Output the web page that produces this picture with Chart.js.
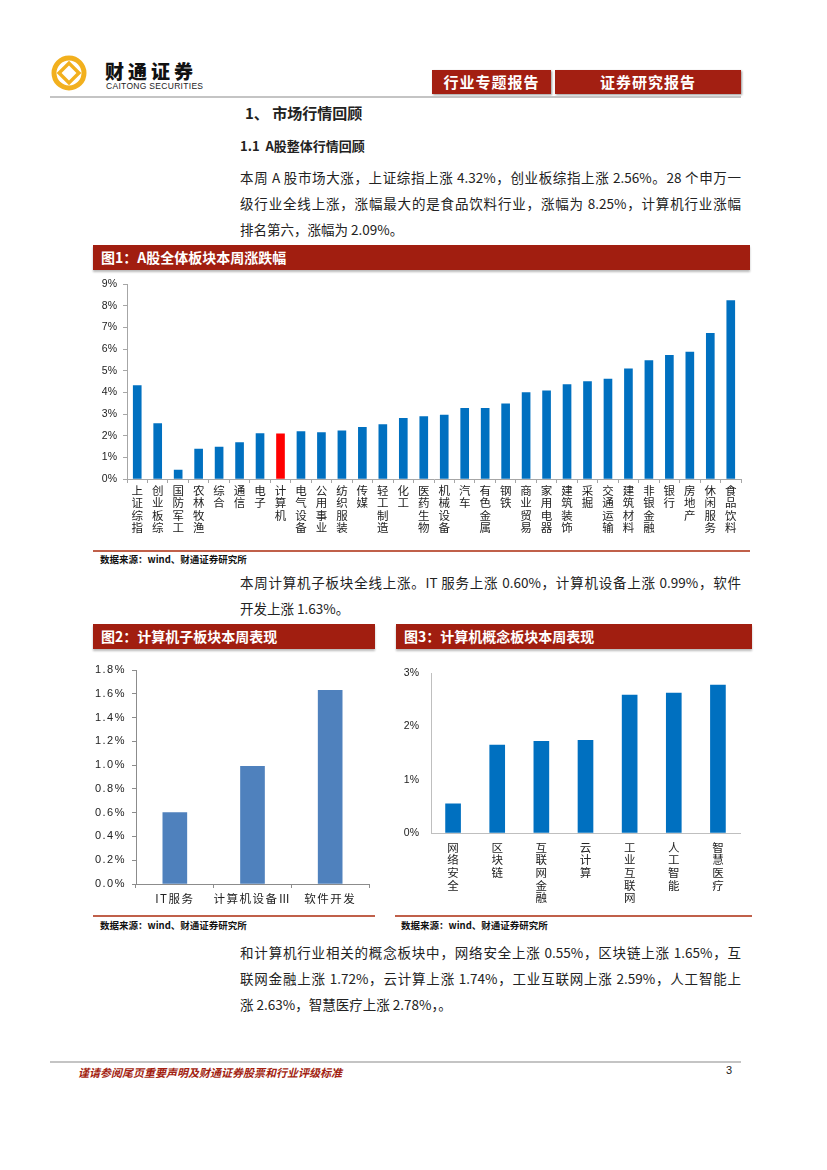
<!DOCTYPE html>
<html>
<head>
<meta charset="utf-8">
<script src="https://cdn.jsdelivr.net/npm/chart.js@4.4.0/dist/chart.umd.min.js"></script>
<style>
  body { margin: 0; background: #fff; }
  #page { position: relative; width: 827px; height: 1170px; background: #fff; overflow: hidden;
          font-family: "Noto Sans CJK SC", "Noto Sans", sans-serif; color: #222; }
  .abs { position: absolute; white-space: nowrap; }
  .hbox { position: absolute; top: 70px; height: 24px; background: #a31f12; color: #fff; font-weight: 700;
          font-size: 15px; line-height: 24px; text-align: center; letter-spacing: 1px;
          box-shadow: 1px 1px 2px #999; }
  .bar { position: absolute; height: 25px; background: #a11e10; color: #fff; font-weight: 700; font-size: 14px;
         line-height: 25px; padding-left: 8px; box-sizing: border-box; box-shadow: 0 2px 2px #bbb; }
  .para { position: absolute; left: 240px; width: 501px; font-size: 13.5px; line-height: 18px; white-space: nowrap; }
  .just { text-align: justify; text-align-last: justify; white-space: normal; }
  .src { position: absolute; font-size: 9.5px; font-weight: 700; color: #111; }
  .rule { position: absolute; height: 2px; background: #c0604a; }
  .box { position: absolute; }
</style>
</head>
<body>
<div id="page">
  <!-- header -->
  <svg class="abs" style="left:50px;top:54px" width="38" height="38" viewBox="0 0 38 38">
    <circle cx="19" cy="19" r="15" fill="none" stroke="#f2b01e" stroke-width="5"/>
    <rect x="12" y="12" width="14" height="14" transform="rotate(45 19 19)" fill="none" stroke="#f2b01e" stroke-width="3.5"/>
  </svg>
  <div class="abs" style="left:105px;top:60px;font-size:19px;line-height:21px;font-weight:900;letter-spacing:4px;color:#111">财通证券</div>
  <div class="abs" style="left:106px;top:81px;font-size:8.5px;line-height:10px;font-family:'Liberation Sans',sans-serif;letter-spacing:0.3px;color:#222">CAITONG SECURITIES</div>
  <div class="hbox" style="left:432px;width:119px">行业专题报告</div>
  <div class="hbox" style="left:555px;width:186px">证券研究报告</div>
  <div class="abs" style="left:50px;top:96px;width:691px;height:2px;background:#c4c4c4"></div>

  <div class="abs" style="left:245px;top:102px;font-size:15px;font-weight:700">1、 市场行情回顾</div>
  <div class="abs" style="left:240px;top:136px;font-size:13px;font-weight:700">1.1&nbsp; A股整体行情回顾</div>

  <div class="para just" style="top:168px">本周 A 股市场大涨，上证综指上涨 4.32%，创业板综指上涨 2.56%。28 个申万一</div>
  <div class="para just" style="top:194px">级行业全线上涨，涨幅最大的是食品饮料行业，涨幅为 8.25%，计算机行业涨幅</div>
  <div class="para" style="top:220px">排名第六，涨幅为 2.09%。</div>

  <!-- figure 1 -->
  <div class="bar" style="left:93px;top:245px;width:657px">图1：A股全体板块本周涨跌幅</div>
  <div class="box" style="left:93px;top:272px;width:657px;height:275px"><canvas id="chartSectors"></canvas></div>
  <div class="rule" style="left:93px;top:550px;width:657px"></div>
  <div class="src" style="left:100px;top:552px">数据来源：wind、财通证券研究所</div>

  <div class="para just" style="top:573px">本周计算机子板块全线上涨。IT 服务上涨 0.60%，计算机设备上涨 0.99%，软件</div>
  <div class="para" style="top:599px">开发上涨 1.63%。</div>

  <!-- figure 2 -->
  <div class="bar" style="left:93px;top:624px;width:282px">图2：计算机子板块本周表现</div>
  <div class="box" style="left:93px;top:655px;width:282px;height:250px"><canvas id="chartSub"></canvas></div>
  <div class="rule" style="left:93px;top:915px;width:282px"></div>
  <div class="src" style="left:100px;top:918px">数据来源：wind、财通证券研究所</div>

  <!-- figure 3 -->
  <div class="bar" style="left:396px;top:624px;width:356px">图3：计算机概念板块本周表现</div>
  <div class="box" style="left:396px;top:655px;width:356px;height:258px"><canvas id="chartConcept"></canvas></div>
  <div class="rule" style="left:395px;top:915px;width:357px"></div>
  <div class="src" style="left:401px;top:918px">数据来源：wind、财通证券研究所</div>

  <div class="para just" style="top:943px">和计算机行业相关的概念板块中，网络安全上涨 0.55%，区块链上涨 1.65%，互</div>
  <div class="para just" style="top:969px">联网金融上涨 1.72%，云计算上涨 1.74%，工业互联网上涨 2.59%，人工智能上</div>
  <div class="para" style="top:995px">涨 2.63%，智慧医疗上涨 2.78%，。</div>

  <!-- footer -->
  <div class="abs" style="left:50px;top:1061px;width:691px;height:2px;background:#c4c4c4"></div>
  <div class="abs" style="left:78px;top:1064px;font-size:11px;font-weight:700;font-style:italic;color:#a31f12">谨请参阅尾页重要声明及财通证券股票和行业评级标准</div>
  <div class="abs" style="left:726px;top:1064px;font-size:11px;font-family:'Liberation Sans',sans-serif">3</div>
</div>

<script>
// Figure 1 - weekly change of all A-share sectors (%)
const sectorNames = ['上证综指', '创业板综', '国防军工', '农林牧渔', '综合', '通信', '电子', '计算机',
    '电气设备', '公用事业', '纺织服装', '传媒', '轻工制造', '化工', '医药生物', '机械设备',
    '汽车', '有色金属', '钢铁', '商业贸易', '家用电器', '建筑装饰', '采掘', '交通运输',
    '建筑材料', '非银金融', '银行', '房地产', '休闲服务', '食品饮料'];
const sectorChange = [4.32, 2.56, 0.41, 1.38, 1.47, 1.68, 2.10, 2.09,
    2.19, 2.14, 2.23, 2.39, 2.52, 2.81, 2.88, 2.95,
    3.27, 3.27, 3.47, 3.99, 4.08, 4.37, 4.50, 4.62,
    5.09, 5.47, 5.72, 5.87, 6.73, 8.25];
const highlightSector = '计算机';
const sectorAxisMax = 9;

// Figure 2 - computer sub-sectors (%)
const subNames = ['IT服务', '计算机设备Ⅲ', '软件开发'];
const subChange = [0.60, 0.99, 1.63];
const subAxisMax = 1.8;
const subAxisStep = 0.2;

// Figure 3 - computer concept sectors (%)
const conceptNames = ['网络安全', '区块链', '互联网金融', '云计算', '工业互联网', '人工智能', '智慧医疗'];
const conceptChange = [0.55, 1.65, 1.72, 1.74, 2.59, 2.63, 2.78];
const conceptAxisMax = 3;

const CJK = '"Noto Sans CJK SC", sans-serif';
const LAT = '"Liberation Sans", Arial, sans-serif';

Chart.defaults.animation = false;
Chart.defaults.color = '#222';

// vertical (one char per line) labels
function stacked(names) {
    return names.map(n => n.split(''));
}

function fixedSize(w, h) {
    return function (scale) {
        if (w != null) scale.width = w;
        if (h != null) scale.height = h;
    };
}

function barChart(id, cfg) {
    new Chart(document.getElementById(id), {
        type: 'bar',
        data: {
            labels: cfg.labels,
            datasets: [{
                data: cfg.values,
                backgroundColor: cfg.colors,
                barThickness: cfg.barWidth,
                borderWidth: 0
            }]
        },
        options: {
            responsive: true,
            maintainAspectRatio: false,
            layout: { padding: cfg.padding },
            plugins: { legend: { display: false }, tooltip: { enabled: false } },
            scales: {
                x: {
                    grid: { display: true, drawOnChartArea: false, drawTicks: cfg.xTicks, tickLength: 4, color: cfg.axisColor },
                    border: { color: cfg.axisColor },
                    ticks: {
                        autoSkip: false, maxRotation: 0, minRotation: 0, padding: cfg.xPad,
                        font: cfg.xFont, color: '#222'
                    },
                    afterFit: fixedSize(null, cfg.xHeight)
                },
                y: {
                    min: 0,
                    max: cfg.yMax,
                    grid: { display: true, drawOnChartArea: false, drawTicks: cfg.yTicks, tickLength: 4, color: cfg.axisColor },
                    border: { color: cfg.axisColor },
                    ticks: { stepSize: cfg.yStep, padding: cfg.yPad, font: cfg.yFont, color: '#222', callback: cfg.fmt },
                    afterFit: fixedSize(cfg.yWidth, null)
                }
            }
        },
        plugins: cfg.spacing ? [{
            id: 'spacing',
            beforeDraw(chart) { chart.ctx.letterSpacing = cfg.spacing; }
        }] : []
    });
}

// Figure 1
barChart('chartSectors', {
    labels: stacked(sectorNames),
    values: sectorChange,
    colors: sectorNames.map(n => n === highlightSector ? '#ff0000' : '#0070c0'),
    barWidth: 8,
    padding: { top: 10, right: 9, left: 0, bottom: 0 },
    axisColor: '#a6a6a6',
    xTicks: true, yTicks: true,
    xPad: 2, yPad: 6,
    xFont: { family: CJK, size: 11.5, lineHeight: 1.05 },
    yFont: { family: LAT, size: 10.5 },
    xHeight: 68, yWidth: 34,
    yMax: sectorAxisMax, yStep: 1,
    fmt: v => v + '%'
});

// Figure 2
barChart('chartSub', {
    labels: subNames,
    values: subChange,
    colors: '#4f81bd',
    barWidth: 24,
    padding: { top: 15, right: 6, left: 0, bottom: 0 },
    axisColor: '#8c8c8c',
    xTicks: true, yTicks: true,
    xPad: 4, yPad: 6,
    xFont: { family: CJK, size: 11.5 },
    yFont: { family: LAT, size: 11 },
    xHeight: 21, yWidth: 43,
    yMax: subAxisMax, yStep: subAxisStep,
    fmt: v => v.toFixed(1) + '%',
    spacing: '1.5px'
});

// Figure 3
barChart('chartConcept', {
    labels: stacked(conceptNames),
    values: conceptChange,
    colors: '#0070c0',
    barWidth: 15,
    padding: { top: 13, right: 12, left: 0, bottom: 0 },
    axisColor: '#bfbfbf',
    xTicks: false, yTicks: false,
    xPad: 8, yPad: 12,
    xFont: { family: CJK, size: 11.5, lineHeight: 1.1 },
    yFont: { family: LAT, size: 10.5 },
    xHeight: 80, yWidth: 35,
    yMax: conceptAxisMax, yStep: 1,
    fmt: v => v + '%'
});
</script>
</body>
</html>
